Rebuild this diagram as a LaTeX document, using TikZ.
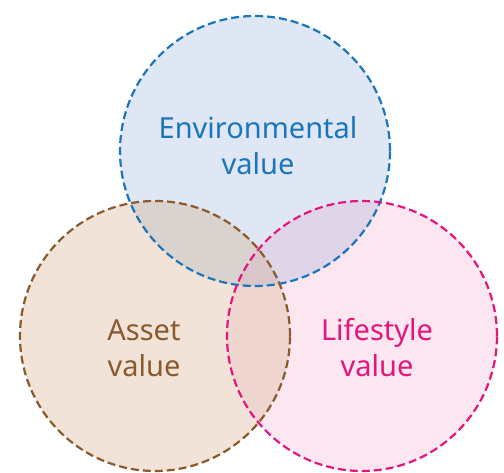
\documentclass[tikz,border=0pt]{standalone}
\usepackage{fontspec}
\setmainfont{Noto Sans}
\usepackage{tikz}
\usetikzlibrary{positioning}
\definecolor{envline}{HTML}{1B75BB}
\definecolor{envfill}{HTML}{DFE7F4}
\definecolor{assetline}{HTML}{8A5A2C}
\definecolor{assetfill}{HTML}{F1E3D7}
\definecolor{lifeline}{HTML}{E5157E}
\definecolor{lifefill}{HTML}{FCE6F0}
\definecolor{envasset}{HTML}{D9D3CF}
\definecolor{assetlife}{HTML}{EED5D0}
\definecolor{envlife}{HTML}{E0D5E8}
\definecolor{allthree}{HTML}{D8C6CB}

\begin{document}
\begin{tikzpicture}[x=1pt,y=1pt,
  ring/.style={line width=2.2pt,dash pattern=on 8pt off 4pt},
  lbl/.style={align=center,font=\fontsize{29}{36}\selectfont}]
\useasboundingbox (0,0) rectangle (504,473);
\coordinate (env) at (255,322);
\coordinate (asset) at (155,137);
\coordinate (life) at (362,137);
% plain fills
\fill[envfill] (env) circle (135);
\fill[assetfill] (asset) circle (135);
\fill[lifefill] (life) circle (135);
% overlaps, the env ones painted last
\begin{scope}
\clip (asset) circle (135);
\fill[assetlife] (life) circle (135);
\end{scope}
\begin{scope}
\clip (env) circle (135);
\fill[envasset] (asset) circle (135);
\fill[envlife] (life) circle (135);
\clip (asset) circle (135);
\fill[allthree] (life) circle (135);
\end{scope}
% outlines on top
\draw[ring,envline] (env) circle (135);
\draw[ring,assetline] (asset) circle (135);
\draw[ring,lifeline] (life) circle (135);
\node[lbl,text=envline] (envtxt) at (258,327) {Environmental\\value};
\node[lbl,text=assetline] (assettxt) at (144,125) {Asset\\value};
\node[lbl,text=lifeline] (lifetxt) at (377,125) {Lifestyle\\value};
\end{tikzpicture}
\end{document}
